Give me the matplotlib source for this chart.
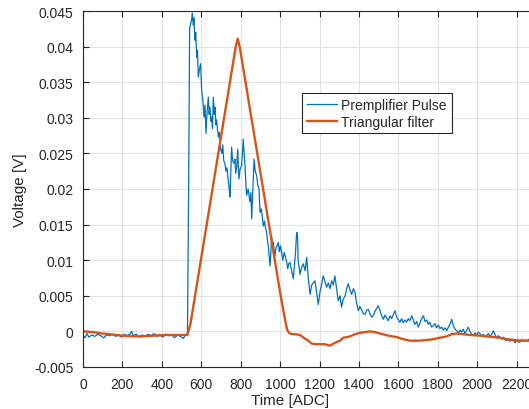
import matplotlib
matplotlib.use('Agg')
import matplotlib.pyplot as plt

# ─── 数据 ─────────────────────────────────
pulse_x = [0, 10, 20, 30, 45, 60, 75, 90, 105, 120, 135, 150, 165, 180, 195, 210, 225, 240, 247, 255,
           270, 285, 300, 315, 330, 345, 360, 375, 390, 405, 420, 435, 450, 465, 480, 495, 510, 520, 530,
           536, 541, 546, 551, 555, 559, 563, 568, 572, 577, 581, 585, 591, 597, 602, 608, 614, 619, 624,
           630, 636, 640, 644, 649, 653, 657, 661, 666, 670, 674, 678, 683, 687, 692, 697, 704, 709, 714,
           720, 725, 730, 737, 742, 746, 750, 754, 759, 766, 771, 775, 780, 785, 791, 797, 805, 809, 813,
           818, 822, 826, 830, 838, 847, 852, 856, 862, 868, 874, 881, 887, 893, 898, 905, 910, 915, 921,
           926, 932, 936, 940, 944, 949, 953, 957, 962, 966, 970, 974, 979, 985, 991, 996, 1002, 1008, 1014,
           1021, 1027, 1033, 1039, 1044, 1050, 1055, 1061, 1067, 1072, 1078, 1084, 1088, 1092, 1097, 1101,
           1110, 1118, 1127, 1135, 1143, 1152, 1160, 1168, 1177, 1185, 1194, 1202, 1210, 1219, 1228, 1236,
           1245, 1253, 1262, 1270, 1278, 1287, 1295, 1304, 1312, 1320, 1330, 1338, 1346, 1355, 1363, 1372,
           1380, 1388, 1397, 1405, 1414, 1422, 1431, 1440, 1448, 1456, 1465, 1473, 1481, 1490, 1498, 1506,
           1515, 1524, 1532, 1540, 1549, 1558, 1566, 1575, 1583, 1592, 1600, 1608, 1617, 1625, 1634, 1642,
           1650, 1659, 1668, 1676, 1684, 1693, 1701, 1710, 1718, 1727, 1735, 1744, 1752, 1760, 1769, 1777,
           1786, 1794, 1803, 1811, 1820, 1828, 1837, 1845, 1854, 1862, 1871, 1879, 1888, 1896, 1905, 1913,
           1921, 1930, 1938, 1947, 1955, 1963, 1972, 1980, 1989, 1997, 2006, 2014, 2023, 2031, 2040, 2048,
           2057, 2065, 2074, 2082, 2091, 2099, 2108, 2116, 2125, 2133, 2142, 2150, 2159, 2167, 2176, 2183,
           2192, 2200, 2209, 2217, 2226, 2234, 2243, 2251, 2263]
pulse_y = [-0.0005, -0.0009, -0.0003, -0.0008, -0.0005, -0.0007, -0.0004, -0.0006, -0.0009, -0.0005,
           -0.0006, -0.0004, -0.0007, -0.0005, -0.0008, -0.0004, -0.0006, -0.0003, 0.0000, -0.0006,
           -0.0004, -0.0008, -0.0005, -0.0007, -0.0004, -0.0006, -0.0003, -0.0007, -0.0005, -0.0008,
           -0.0004, -0.0006, -0.0005, -0.0009, -0.0005, -0.0007, -0.0010, -0.0004, -0.0006,
           0.0200, 0.0425, 0.0432, 0.0438, 0.0447, 0.0430, 0.0440, 0.0409, 0.0420, 0.0385, 0.0395, 0.0357,
           0.0368, 0.0376, 0.0339, 0.0325, 0.0301, 0.0318, 0.0278, 0.0310, 0.0329, 0.0305, 0.0315, 0.0295,
           0.0301, 0.0285, 0.0329, 0.0305, 0.0315, 0.0290, 0.0297, 0.0282, 0.0273, 0.0280, 0.0258, 0.0250,
           0.0262, 0.0240, 0.0236, 0.0225, 0.0230, 0.0213, 0.0200, 0.0189, 0.0225, 0.0259, 0.0240, 0.0236,
           0.0242, 0.0222, 0.0231, 0.0256, 0.0214, 0.0228, 0.0233, 0.0250, 0.0270, 0.0248, 0.0233, 0.0210,
           0.0191, 0.0200, 0.0182, 0.0195, 0.0158, 0.0200, 0.0242, 0.0225, 0.0219, 0.0205, 0.0200, 0.0167,
           0.0172, 0.0160, 0.0148, 0.0155, 0.0145, 0.0139, 0.0128, 0.0120, 0.0108, 0.0092, 0.0110, 0.0134,
           0.0118, 0.0125, 0.0112, 0.0106, 0.0118, 0.0120, 0.0125, 0.0112, 0.0120, 0.0111, 0.0100, 0.0111,
           0.0105, 0.0098, 0.0088, 0.0095, 0.0097, 0.0090, 0.0082, 0.0074, 0.0090, 0.0110, 0.0139, 0.0137,
           0.0097, 0.0090, 0.0080,
           0.0090, 0.0095, 0.0085, 0.0104, 0.0075, 0.0052, 0.0065, 0.0068, 0.0071, 0.0055, 0.0038, 0.0055,
           0.0065, 0.0078, 0.0070, 0.0062, 0.0068, 0.0060, 0.0071, 0.0065, 0.0078, 0.0060, 0.0043, 0.0050,
           0.0034, 0.0045, 0.0050, 0.0060, 0.0067, 0.0058, 0.0052, 0.0060, 0.0055, 0.0040, 0.0029, 0.0035,
           0.0030, 0.0025, 0.0024, 0.0030, 0.0031, 0.0025, 0.0020, 0.0022, 0.0028, 0.0032, 0.0036, 0.0030,
           0.0022, 0.0017, 0.0023, 0.0019, 0.0015, 0.0022, 0.0018, 0.0024, 0.0029, 0.0020, 0.0016, 0.0013,
           0.0018, 0.0012, 0.0016, 0.0013, 0.0018, 0.0015, 0.0022, 0.0016, 0.0010, 0.0014, 0.0006, 0.0012,
           0.0018, 0.0022, 0.0014, 0.0016, 0.0010, 0.0013, 0.0006, 0.0008, 0.0011, 0.0005, 0.0009, 0.0004,
           0.0006, 0.0002, 0.0005, 0.0001, 0.0006, 0.0010, 0.0017, 0.0008, 0.0003, 0.0001, -0.0002, 0.0002,
           -0.0001, 0.0003, -0.0003, 0.0002, 0.0006, 0.0000, -0.0004, -0.0006, -0.0002, -0.0005, -0.0001,
           -0.0003, -0.0007, -0.0004, -0.0008, -0.0006, -0.0003, -0.0007, -0.0004, 0.0001, -0.0005, -0.0009,
           -0.0006, -0.0008, -0.0011, -0.0008, -0.0012, -0.0013, -0.0010, -0.0014, -0.0011, -0.0013, -0.0016,
           -0.0012, -0.0015, -0.0015, -0.0011, -0.0014, -0.0012, -0.0013, -0.0011]

filter_x = [0, 50, 100, 137, 200, 255, 300, 357, 420, 475, 529, 545, 775, 785, 795, 1000, 1020, 1035,
            1045, 1060, 1076, 1101, 1120, 1143, 1160, 1177, 1202, 1228, 1253, 1278, 1304, 1321, 1355, 1380,
            1405, 1430, 1456, 1480, 1507, 1550, 1591, 1625, 1659, 1710, 1745, 1777, 1810, 1845, 1870, 1896,
            1930, 1963, 2014, 2050, 2082, 2116, 2150, 2183, 2217, 2263]
filter_y = [0.0000, -0.0001, -0.0003, -0.0004, -0.0006, -0.0007, -0.0007, -0.0006, -0.0005, -0.0005,
            -0.0005, 0.0010, 0.0400, 0.0411, 0.0400, 0.0055, 0.0024, 0.0003, -0.0002, -0.0004, -0.0004,
            -0.0005, -0.0009, -0.0013, -0.0017, -0.0018, -0.0018, -0.0018, -0.0020, -0.0016, -0.0013,
            -0.0009, -0.0007, -0.0004, -0.0002, -0.0001, 0.0000, -0.0001, -0.0003, -0.0006, -0.0008,
            -0.0011, -0.0013, -0.0013, -0.0012, -0.0011, -0.0009, -0.0007, -0.0004, -0.0003, -0.0004,
            -0.0005, -0.0006, -0.0007, -0.0008, -0.0009, -0.0011, -0.0012, -0.0013, -0.0013]

x_ticks = list(range(0, 2201, 200))
y_ticks = [-0.005, 0, 0.005, 0.01, 0.015, 0.02, 0.025, 0.03, 0.035, 0.04, 0.045]
y_tick_labels = ['-0.005', '0', '0.005', '0.01', '0.015', '0.02', '0.025', '0.03', '0.035', '0.04', '0.045']

# ─── 样式 ─────────────────────────────────────
plt.rcParams['font.family'] = ['Liberation Sans', 'DejaVu Sans']
TXT = '#262626'

fig = plt.figure(figsize=(5.29, 4.10), dpi=100)
ax = fig.add_axes([83 / 529, 42 / 410, 453.3 / 529, 356 / 410])

ax.plot(pulse_x, pulse_y, color='#0072BD', lw=0.9, label='Premplifier Pulse')
ax.plot(filter_x, filter_y, color='#D95319', lw=1.7, label='Triangular filter')

ax.set_xlim(0, 2300)
ax.set_ylim(-0.005, 0.045)
ax.set_xticks(x_ticks)
ax.set_yticks(y_ticks)
ax.set_yticklabels(y_tick_labels)
ax.grid(True, color='#e3e3e3', lw=0.8)
ax.set_axisbelow(True)
ax.tick_params(direction='in', length=4, width=0.8, colors=TXT, labelsize=10,
               top=True, right=True, pad=7)
for s in ax.spines.values():
    s.set_color(TXT)
    s.set_linewidth(0.8)

ax.set_xlabel('Time [ADC]', fontsize=11, color=TXT)
ax.set_ylabel('Voltage [V]', fontsize=11, color=TXT)
ax.xaxis.set_label_coords(0.457, -0.074)
ax.yaxis.set_label_coords(-0.124, 0.5)

leg = ax.legend(loc='upper left', bbox_to_anchor=(0.4825, 0.769), borderaxespad=0,
                fontsize=10, handlelength=2.2, handletextpad=0.3, labelspacing=0.18,
                fancybox=False, framealpha=1, edgecolor=TXT, borderpad=0.35)
leg.get_frame().set_linewidth(0.8)
for t in leg.get_texts():
    t.set_color(TXT)

plt.savefig('out.png', dpi=100)
plt.close()
